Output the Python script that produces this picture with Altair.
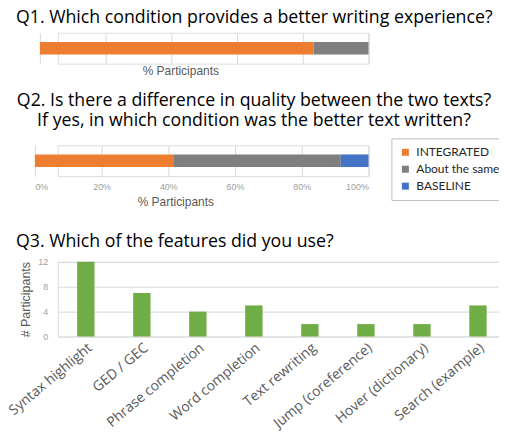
import altair as alt
import pandas as pd

# ---- data ----
q1_conditions = ["INTEGRATED", "About the same"]
q1_pct = [83.3, 16.7]
q2_conditions = ["INTEGRATED", "About the same", "BASELINE"]
q2_pct = [41.7, 50.0, 8.3]
features = ["Syntax highlight", "GED / GEC", "Phrase completion", "Word completion",
            "Text rewriting", "Jump (coreference)", "Hover (dictionary)", "Search (example)"]
counts = [12, 7, 4, 5, 2, 2, 2, 5]
pct_ticks = [0, 20, 40, 60, 80, 100]
count_ticks = [0, 4, 8, 12]

cond_colors = ["#ED7D31", "#7F7F7F", "#4472C4"]
GRID = "#D9D9D9"
TITLE_FONT = "Open Sans"
AX_FONT = "Liberation Sans"
TSIZE = 17.8

df1 = pd.DataFrame({"q": "Q1", "cond": q1_conditions, "pct": q1_pct, "rank": list(range(len(q1_pct)))})
df2 = pd.DataFrame({"q": "Q2", "cond": q2_conditions, "pct": q2_pct, "rank": list(range(len(q2_pct)))})
df3 = pd.DataFrame({"feature": features, "count": counts})

color_scale = alt.Scale(domain=q2_conditions, range=cond_colors)

q1 = alt.Chart(df1).mark_bar().encode(
    x=alt.X("pct:Q", stack="zero",
            scale=alt.Scale(domain=[0, 100], range=[-18, 312], nice=False),
            axis=alt.Axis(values=pct_ticks, labels=False, ticks=False, tickSize=0, domain=False,
                          grid=True, gridColor=GRID, title="% Participants",
                          titleFont=AX_FONT, titleFontSize=12, titleFontWeight="normal",
                          titleColor="#595959", titlePadding=1.5, titleX=123)),
    y=alt.Y("q:N", axis=None, scale=alt.Scale(paddingInner=0.42, paddingOuter=0.42)),
    color=alt.Color("cond:N", scale=color_scale, legend=None),
    order=alt.Order("rank:Q"),
).properties(
    width=312, height=31,
    title=alt.TitleParams("Q1. Which condition provides a better writing experience?",
                          anchor="start", frame="group", dx=-42, offset=6,
                          font=TITLE_FONT, fontSize=TSIZE, fontWeight="normal", color="#000000"),
)

q2 = alt.Chart(df2).mark_bar().encode(
    x=alt.X("pct:Q", stack="zero",
            scale=alt.Scale(domain=[0, 100], range=[-23, 312], nice=False),
            axis=alt.Axis(values=pct_ticks, labelExpr="datum.value + '%'", ticks=False, tickSize=0,
                          domain=False, grid=True, gridColor=GRID,
                          labelFont=AX_FONT, labelFontSize=9, labelColor="#A0A0A0", labelPadding=6,
                          title="% Participants",
                          titleFont=AX_FONT, titleFontSize=12, titleFontWeight="normal",
                          titleColor="#595959", titlePadding=5, titleX=118)),
    y=alt.Y("q:N", axis=None, scale=alt.Scale(paddingInner=0.42, paddingOuter=0.42)),
    color=alt.Color("cond:N", scale=color_scale,
                    legend=alt.Legend(orient="none", legendX=335, legendY=-7, direction="vertical",
                                      title=None, symbolType="square", symbolSize=49,
                                      symbolStrokeWidth=0,
                                      labelFont="Lato", labelFontSize=12, labelColor="#262626",
                                      labelOffset=5, rowPadding=5, padding=8,
                                      strokeColor="#BFBFBF", fillColor="white")),
    order=alt.Order("rank:Q"),
).properties(
    width=312, height=31,
    title=alt.TitleParams(["Q2. Is there a difference in quality between the two texts?",
                           "If yes, in which condition was the better text written?"],
                          anchor="middle", frame="group", dx=41, offset=8, lineHeight=20,
                          font=TITLE_FONT, fontSize=TSIZE, fontWeight="normal", color="#000000"),
)

q3 = alt.Chart(df3).mark_bar(color="#70AD47").encode(
    x=alt.X("feature:N", sort=features,
            scale=alt.Scale(paddingInner=0.69, paddingOuter=0.345, range=[0, 450]),
            axis=alt.Axis(title=None, labelAngle=-40, labelFont=TITLE_FONT, labelFontSize=14,
                          labelColor="#595959", ticks=False, tickSize=0, domain=False,
                          labelPadding=4)),
    y=alt.Y("count:Q", scale=alt.Scale(domain=[0, 12], nice=False),
            axis=alt.Axis(values=count_ticks, grid=True, gridColor=GRID, domain=False,
                          ticks=False, tickSize=0, labelFont=AX_FONT, labelFontSize=9,
                          labelColor="#A0A0A0", labelPadding=10,
                          title="# Participants", titleFont=AX_FONT, titleFontSize=12.5,
                          titleFontWeight="normal", titleColor="#595959", titlePadding=5)),
).properties(
    width=480, height=75,
    title=alt.TitleParams("Q3. Which of the features did you use?",
                          anchor="start", frame="group", dx=-42, offset=7,
                          font=TITLE_FONT, fontSize=TSIZE, fontWeight="normal", color="#000000"),
)

chart = alt.vconcat(
    q1,
    alt.vconcat(q2, q3, spacing=24).resolve_scale(color="independent"),
    spacing=15,
).resolve_scale(color="independent").properties(
    padding={"left": -3, "top": -1, "right": -38, "bottom": 0},
).configure_view(stroke=None).configure(background="white")

chart.save("out.html", embed_options={"renderer": "svg", "actions": False})
